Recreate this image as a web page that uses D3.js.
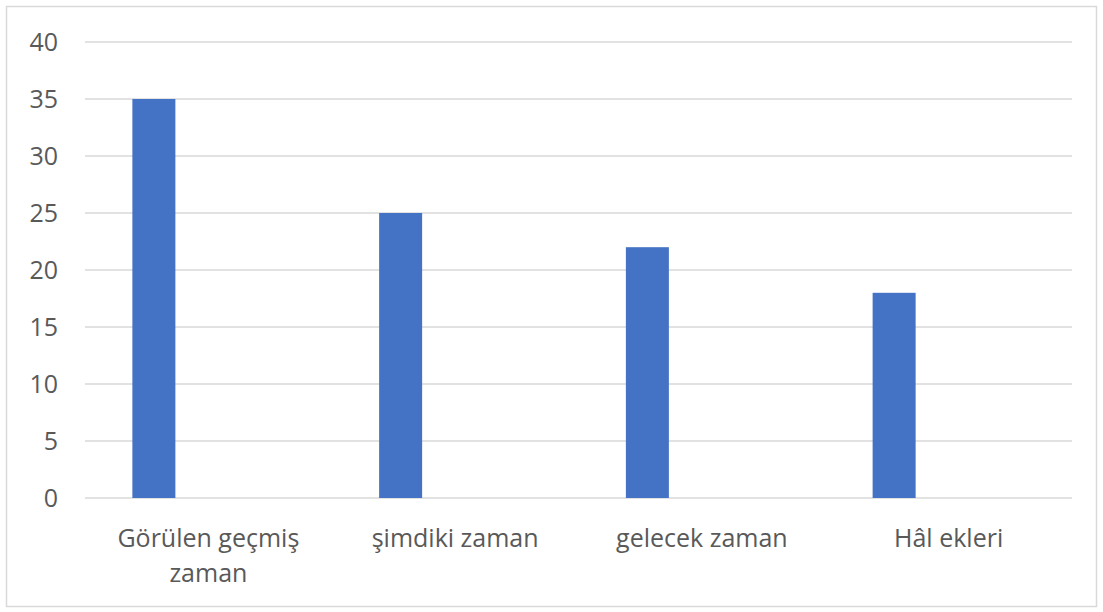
<!DOCTYPE html>
<html><head><meta charset="utf-8">
<script src="https://cdn.jsdelivr.net/npm/d3@7"></script>
<style>
html,body{margin:0;padding:0;background:#fff;}
svg{display:block;font-family:"Open Sans",sans-serif;}
</style></head>
<body><svg id="c" width="1103" height="612"></svg>
<script>
const categories = ["Görülen geçmiş zaman", "şimdiki zaman", "gelecek zaman", "Hâl ekleri"];
const values = [35, 25, 22, 18];
const yTicks = [0, 5, 10, 15, 20, 25, 30, 35, 40];

const svg = d3.select("#c");
const W = 1103, H = 612;
const m = {left: 85, right: 31, top: 42, bottom: 114};
const FS = 25;

svg.append("rect").attr("x", 6.5).attr("y", 6.5).attr("width", W - 13).attr("height", H - 12)
  .attr("fill", "#fff").attr("stroke", "#d9d9d9").attr("stroke-width", 1.5);

const x = d3.scaleBand().domain(categories).range([m.left, W - m.right]).paddingInner(0).paddingOuter(0);
const y = d3.scaleLinear().domain([0, 40]).range([H - m.bottom, m.top]);
const bw = x.bandwidth();
const xb = d3.scaleLinear().domain([0, 1]).range([bw * 0.192, bw * 0.192 + 43]);

// gridlines
svg.append("g").selectAll("line").data(yTicks).join("line")
  .attr("x1", m.left).attr("x2", W - m.right)
  .attr("y1", d => y(d)).attr("y2", d => y(d))
  .attr("stroke", "#d9d9d9").attr("stroke-width", 1.5);

// y axis labels
const yAxis = d3.axisLeft(y).tickValues(yTicks).tickSize(0).tickPadding(0);
const ga = svg.append("g").attr("transform", `translate(${m.left - 27},0)`).call(yAxis);
ga.select(".domain").remove();
ga.selectAll("text").attr("font-size", FS).attr("fill", "#595959").attr("font-family", "Open Sans");

// bars
svg.append("g").selectAll("rect").data(values).join("rect")
  .attr("x", (d, i) => x(categories[i]) + xb(0))
  .attr("width", xb(1) - xb(0))
  .attr("y", d => y(d))
  .attr("height", d => y(0) - y(d))
  .attr("fill", "#4472c4");

// category labels
const lg = svg.append("g");
categories.forEach(c => {
  const t = lg.append("text").attr("x", x(c) + bw / 2).attr("y", 547)
    .attr("text-anchor", "middle").attr("font-size", FS).attr("fill", "#595959");
  const words = c.split(" ");
  let line = [];
  let ts = t.append("tspan").attr("x", x(c) + bw / 2).attr("dy", 0);
  words.forEach(w => {
    line.push(w);
    ts.text(line.join(" "));
    if (ts.node().getComputedTextLength() > bw * 0.85 && line.length > 1) {
      line.pop(); ts.text(line.join(" "));
      line = [w];
      ts = t.append("tspan").attr("x", x(c) + bw / 2).attr("dy", 35).text(w);
    }
  });
});
</script></body></html>
